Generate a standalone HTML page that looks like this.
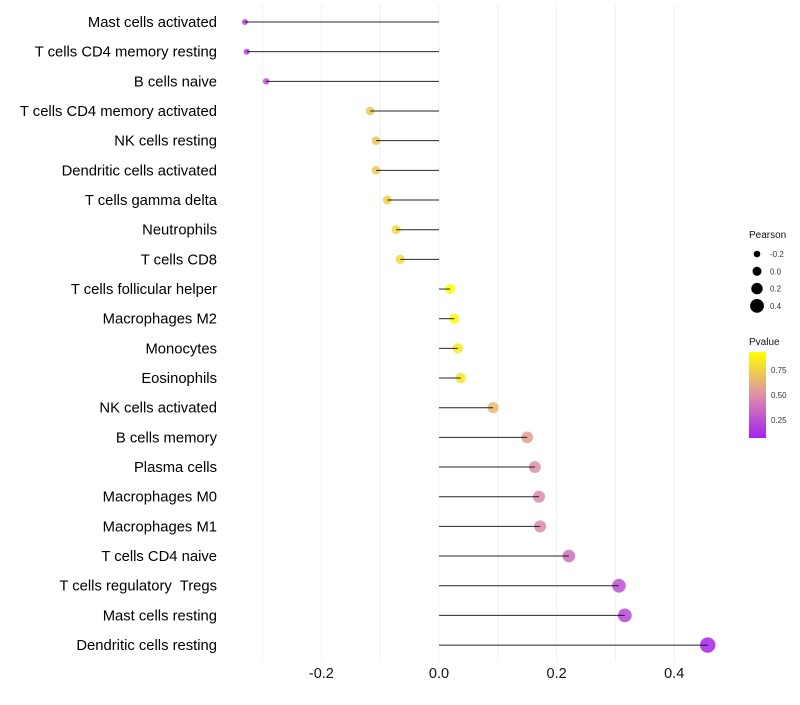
<!DOCTYPE html>
<html><head><meta charset="utf-8"><style>
body{margin:0;background:#fff;font-family:"Liberation Sans",sans-serif}
text{white-space:pre}
</style></head><body>
<svg id="chart" width="800" height="700" xmlns="http://www.w3.org/2000/svg" font-family="Liberation Sans, sans-serif">
<defs><linearGradient id="pgrad" x1="0" y1="1" x2="0" y2="0">
<stop offset="0" stop-color="#a521f0"/><stop offset="0.5" stop-color="#dd8fa8"/><stop offset="1" stop-color="#ffff00"/></linearGradient></defs>
<g id="grid"></g>
<g id="marks"></g>
<g id="ylabels"></g>
<g id="xlabels"></g>
<g id="legP">
<text x="749" y="238" font-size="10" fill="#111">Pearson</text>
</g>
<g>
<text x="749" y="345" font-size="10" fill="#111">Pvalue</text>
<rect x="749" y="352" width="17" height="86" fill="url(#pgrad)"/>
<text x="771" y="373" font-size="8" fill="#333">0.75</text>
<text x="771" y="398" font-size="8" fill="#333">0.50</text>
<text x="771" y="423" font-size="8" fill="#333">0.25</text>
</g>
</svg>
<script>
const categories=["Mast cells activated","T cells CD4 memory resting","B cells naive","T cells CD4 memory activated","NK cells resting","Dendritic cells activated","T cells gamma delta","Neutrophils","T cells CD8","T cells follicular helper","Macrophages M2","Monocytes","Eosinophils","NK cells activated","B cells memory","Plasma cells","Macrophages M0","Macrophages M1","T cells CD4 naive","T cells regulatory  Tregs","Mast cells resting","Dendritic cells resting"];
const pearson=[-0.33,-0.327,-0.294,-0.117,-0.107,-0.107,-0.088,-0.073,-0.066,0.019,0.026,0.032,0.037,0.092,0.15,0.163,0.17,0.172,0.221,0.306,0.316,0.457];
const pvalues=[0.2,0.2,0.25,0.7,0.7,0.72,0.75,0.78,0.8,0.92,0.9,0.85,0.83,0.65,0.55,0.5,0.48,0.48,0.38,0.25,0.22,0.08];
const xTicks=[-0.2,0.0,0.2,0.4];
const xTickLabels=["-0.2","0.0","0.2","0.4"];
const sizeLegend=[-0.2,0.0,0.2,0.4];
const NS="http://www.w3.org/2000/svg";
const xs=v=>439+v*588;
const ys=i=>22+i*29.67;
const rs=v=>5+6*v;
function col(p){const t=Math.max(0,Math.min(1,(p-0.07)/0.86));
const a=[165,33,240],b=[221,143,168],c=[255,255,0];let u,s,e;
if(t<0.5){u=t/0.5;s=a;e=b}else{u=(t-0.5)/0.5;s=b;e=c}
return `rgb(${s.map((x,k)=>Math.round(x+(e[k]-x)*u)).join(',')})`;}
function mk(tag,at,parent){const el=document.createElementNS(NS,tag);for(const k in at)el.setAttribute(k,at[k]);parent.appendChild(el);return el;}
const grid=document.getElementById('grid'),marks=document.getElementById('marks'),yl=document.getElementById('ylabels'),xl=document.getElementById('xlabels');
for(let v=-0.3;v<=0.41;v+=0.1){const l=mk('line',{x1:xs(v),x2:xs(v),y1:5,y2:662,stroke:'#f0f0f0','stroke-width':1},grid);

}
xTicks.forEach((v,i)=>{const t=mk('text',{x:xs(v),y:678,'font-size':14.5,'text-anchor':'middle',fill:'#111'},xl);t.textContent=xTickLabels[i];

});
categories.forEach((c,i)=>{const y=ys(i);
const t=mk('text',{x:217,y:y+5,'font-size':14.8,'text-anchor':'end',fill:'#000'},yl);t.textContent=c;


const p=mk('circle',{cx:xs(pearson[i]),cy:y,r:Math.max(1.8,rs(pearson[i])),fill:col(pvalues[i]),'fill-opacity':0.85},marks);


const l=mk('line',{x1:xs(0),x2:xs(pearson[i]),y1:y,y2:y,stroke:'#000','stroke-width':1,'stroke-opacity':0.85},marks);

});
const legP=document.getElementById('legP');
sizeLegend.forEach((v,i)=>{const y=254+i*17.3;
const c=mk('circle',{cx:757,cy:y,r:rs(v)-0.5,fill:'#000'},legP);


const t=mk('text',{x:770,y:y+3,'font-size':8,fill:'#333'},legP);t.textContent=v.toFixed(1);

});
</script>
</body></html>
